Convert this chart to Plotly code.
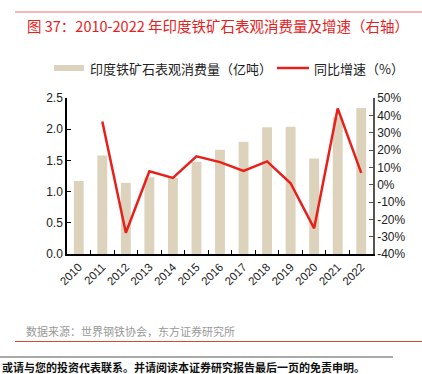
import plotly.graph_objects as go

years = ["2010", "2011", "2012", "2013", "2014", "2015", "2016",
         "2017", "2018", "2019", "2020", "2021", "2022"]
consumption = [1.17, 1.58, 1.14, 1.23, 1.22, 1.48, 1.67, 1.80, 2.03, 2.04, 1.53, 2.19, 2.34]
growth = [None, 36.5, -27.7, 7.7, 3.9, 16.3, 13.0, 8.0, 13.4, 0.8, -25.2, 44.0, 6.8]
left_ticks = [0.0, 0.5, 1.0, 1.5, 2.0, 2.5]
right_ticks = [-40, -30, -20, -10, 0, 10, 20, 30, 40, 50]

FONT = "Liberation Sans, Arial, Noto Sans CJK SC, sans-serif"
CJK = "Noto Sans CJK SC, Liberation Sans, sans-serif"
BAR_COLOR = "#DDD3BC"
LINE_COLOR = "#E8201C"

W, H = 422, 374
L, R, T, B = 67, 49, 98, 120
PW, PH = W - L - R, H - T - B


def px(x):
    return (x - L) / PW


def py(y):
    return (H - B - y) / PH


fig = go.Figure()
fig.add_trace(go.Bar(
    x=years, y=consumption, name="印度铁矿石表观消费量（亿吨）",
    marker=dict(color=BAR_COLOR, line=dict(width=0)), yaxis="y",
))
fig.add_trace(go.Scatter(
    x=years, y=growth, name="同比增速（%）", mode="lines",
    line=dict(color=LINE_COLOR, width=2.5), yaxis="y2",
))

fig.update_layout(
    width=W, height=H,
    margin=dict(l=L, r=R, t=T, b=B, pad=0, autoexpand=False),
    paper_bgcolor="white", plot_bgcolor="white",
    font=dict(family=FONT, size=12, color="#222"),
    bargap=0.58,
    showlegend=False,
    xaxis=dict(type="category", showline=True, linecolor="#000", linewidth=1.5,
               ticks="inside", tickson="boundaries", ticklen=4, tickcolor="#000",
               tickangle=-45, tickfont=dict(size=11.5, color="#222"),
               showgrid=False, zeroline=False, automargin=False),
    yaxis=dict(range=[0, 2.5], tickvals=left_ticks, ticktext=[f"{v:.1f}" for v in left_ticks],
               showline=True, linecolor="#000", linewidth=1.5,
               ticks="inside", ticklen=4, tickcolor="#000", automargin=False,
               showgrid=False, zeroline=False, tickfont=dict(size=12, color="#222")),
    yaxis2=dict(range=[-40, 50], tickvals=right_ticks, ticktext=[f"{v}%" for v in right_ticks],
                overlaying="y", side="right", showline=True, linecolor="#555", linewidth=1.5,
                ticks="inside", ticklen=4, tickcolor="#555", automargin=False,
                showgrid=False, zeroline=False, tickfont=dict(size=12, color="#222")),
)

# header / footer rules
fig.add_shape(type="line", xref="paper", yref="paper", x0=px(15), x1=px(422),
              y0=py(12), y1=py(12), line=dict(color="#E57373", width=1))
fig.add_shape(type="line", xref="paper", yref="paper", x0=px(15), x1=px(422),
              y0=py(341.5), y1=py(341.5), line=dict(color="#D9453A", width=1))
fig.add_shape(type="line", xref="paper", yref="paper", x0=px(0), x1=px(393),
              y0=py(357), y1=py(357), line=dict(color="#555", width=1))

# manual legend
fig.add_shape(type="rect", xref="paper", yref="paper", x0=px(54), x1=px(84),
              y0=py(71), y1=py(65), fillcolor=BAR_COLOR, line=dict(width=0))
fig.add_annotation(text="印度铁矿石表观消费量（亿吨）", xref="paper", yref="paper",
                   x=px(88), y=py(68), xanchor="left", yanchor="middle", showarrow=False,
                   font=dict(family=CJK, size=13, color="#222"))
fig.add_shape(type="line", xref="paper", yref="paper", x0=px(277), x1=px(309),
              y0=py(68), y1=py(68), line=dict(color=LINE_COLOR, width=2.5))
fig.add_annotation(text="同比增速（%）", xref="paper", yref="paper",
                   x=px(312), y=py(68), xanchor="left", yanchor="middle", showarrow=False,
                   font=dict(family=CJK, size=13, color="#222"))

fig.add_annotation(text="图 37：2010-2022 年印度铁矿石表观消费量及增速（右轴）",
                   xref="paper", yref="paper", x=px(25), y=py(25),
                   xanchor="left", yanchor="middle", showarrow=False,
                   font=dict(family=CJK, size=14.5, color=LINE_COLOR))
fig.add_annotation(text="数据来源：世界钢铁协会，东方证券研究所",
                   xref="paper", yref="paper", x=px(24), y=py(331),
                   xanchor="left", yanchor="middle", showarrow=False,
                   font=dict(family=CJK, size=11, color="#999"))
fig.add_annotation(text="<b>或请与您的投资代表联系。并请阅读本证券研究报告最后一页的免责申明。</b>",
                   xref="paper", yref="paper", x=px(0), y=py(366.5),
                   xanchor="left", yanchor="middle", showarrow=False,
                   font=dict(family=CJK, size=11, color="#111"))

fig.write_html("out.html", config={"displayModeBar": False},
               post_script="document.body.style.margin='0';document.body.style.overflow='hidden';")
